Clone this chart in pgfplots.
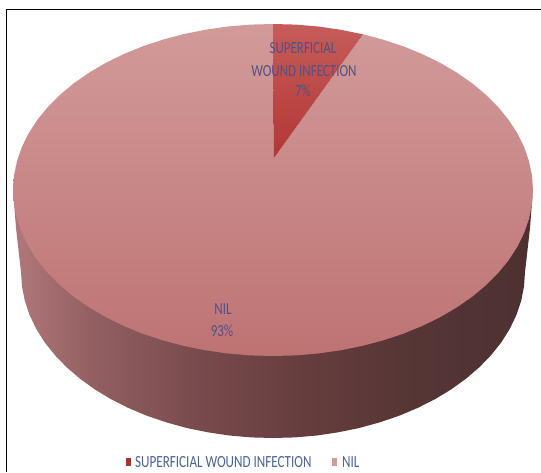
\documentclass[border=0pt]{standalone}
\usepackage{graphicx}
\usepackage{fontspec}
\setmainfont{Carlito}
\usepackage{pgfplots}
\pgfplotsset{compat=1.18}
% Side wall of the pie: light on the left, dark on the right
\pgfdeclarehorizontalshading{pieside}{100bp}{
  rgb(0bp)=(0.69,0.47,0.48);
  rgb(25bp)=(0.69,0.47,0.48);
  rgb(33bp)=(0.57,0.37,0.38);
  rgb(43bp)=(0.47,0.29,0.30);
  rgb(53bp)=(0.40,0.24,0.24);
  rgb(63bp)=(0.34,0.21,0.21);
  rgb(75bp)=(0.30,0.19,0.19);
  rgb(100bp)=(0.30,0.19,0.19)}
\definecolor{labelblue}{HTML}{4F5288}
\definecolor{legendblue}{HTML}{4A6496}
\definecolor{swatchA}{HTML}{A83432}
\definecolor{swatchB}{HTML}{D29A9A}
\newcommand{\tall}[1]{\scalebox{1}[1.3]{#1}}
\begin{document}
\begin{tikzpicture}
\begin{axis}[
  scale only axis, width=541pt, height=472pt,
  xmin=0, xmax=541, ymin=0, ymax=472, y dir=reverse,
  hide axis, clip=true]
% page background
\addplot[draw=none, fill=white] coordinates {(0,0)(541,0)(541,472)(0,472)} -- cycle;
% frame lines at the top and left
\addplot[black, line width=1.3pt] coordinates {(6.5,472)(6.5,9.3)(541,9.3)};
% side wall
\addplot[draw=none, shading=pieside, shading angle=0] coordinates {
(13.5,195)(16,228)(21,272)(22,286.5)(24.8,300.8)(29.6,315)(36.2,328.8)(44.6,342.2)(54.8,355)(66.6,367.2)
(80,378.7)(94.8,389.4)(111,399.2)(128.5,408)(147,415.8)(166.5,422.4)(186.8,428)(207.8,432.3)
(229.3,435.5)(251,437.4)(273,438)(295,437.4)(316.7,435.5)(338.2,432.3)(359.2,428)(379.5,422.4)
(399,415.8)(417.5,408)(435,399.2)(451.2,389.4)(466,378.7)(479.4,367.2)(491.2,355)(501.4,342.2)
(509.8,328.8)(516.4,315)(521.2,300.8)(524,286.5)(525,272)(530,228)(532.5,195)(273,190)} -- cycle;
% NIL slice, 93 %
\addplot[draw=none, top color=swatchB, bottom color={rgb,255:red,190;green,115;blue,115}] coordinates {
(274,158)(273,24)(250.3,24.6)(227.9,26.5)(205.7,29.7)(184.1,34)(163.1,39.6)(143,46.2)(123.9,54)
(105.9,62.8)(89.2,72.6)(73.8,83.3)(60,94.8)(47.8,107)(37.4,119.8)(28.7,133.2)(21.9,147)(17,161.2)
(14,175.5)(13,190)(14,204.5)(17,218.8)(21.9,233)(28.7,246.8)(37.4,260.2)(47.8,273)(60,285.2)
(73.8,296.7)(89.2,307.4)(105.9,317.2)(123.9,326)(143,333.8)(163.1,340.4)(184.1,346)(205.7,350.3)
(227.9,353.5)(250.3,355.4)(273,356)(295.7,355.4)(318.1,353.5)(340.3,350.3)(361.9,346)(382.9,340.4)
(403,333.8)(422.1,326)(440.1,317.2)(456.8,307.4)(472.2,296.7)(486,285.2)(498.2,273)(508.6,260.2)
(517.3,246.8)(524.1,233)(529,218.8)(532,204.5)(533,190)(532,175.5)(529,161.2)(524.1,147)(517.3,133.2)
(508.6,119.8)(498.2,107)(486,94.8)(472.2,83.3)(456.8,72.6)(440.1,62.8)(422.1,54)(403,46.2)(382.9,39.6)
(363,34.3)} -- cycle;
% superficial wound infection slice, 7 %
\addplot[draw=none, top color={rgb,255:red,198;green,92;blue,90}, bottom color={rgb,255:red,178;green,55;blue,53}] coordinates {
(274,158)(273,24)(295.7,24.6)(318.1,26.5)(340.3,29.7)(363,34.3)} -- cycle;
% slice labels
\node[text=labelblue, font=\fontsize{13}{14}\selectfont, anchor=center] at (axis cs:303,48) {\tall{SUPERFICIAL}};
\node[text=labelblue, font=\fontsize{13}{14}\selectfont, anchor=center] at (axis cs:304,71) {\tall{WOUND INFECTION}};
\node[text=labelblue, font=\fontsize{13}{14}\selectfont, anchor=center] at (axis cs:303,91) {\tall{7\%}};
\node[text=labelblue, font=\fontsize{13}{14}\selectfont, anchor=center] at (axis cs:223,309) {\tall{NIL}};
\node[text=labelblue, font=\fontsize{13}{14}\selectfont, anchor=center] at (axis cs:222,331) {\tall{93\%}};
% legend
\addplot[draw=none, fill=swatchA] coordinates {(125.5,458)(131,458)(131,466)(125.5,466)} -- cycle;
\addplot[draw=none, fill=swatchB] coordinates {(331.5,458)(337,458)(337,466)(331.5,466)} -- cycle;
\node[text=legendblue, font=\fontsize{13.1}{14}\selectfont, anchor=west, inner sep=0pt] at (axis cs:135,462) {\tall{SUPERFICIAL WOUND INFECTION}};
\node[text=legendblue, font=\fontsize{13.1}{14}\selectfont, anchor=west, inner sep=0pt] at (axis cs:342,462) {\tall{NIL}};
\end{axis}
\end{tikzpicture}
\end{document}
